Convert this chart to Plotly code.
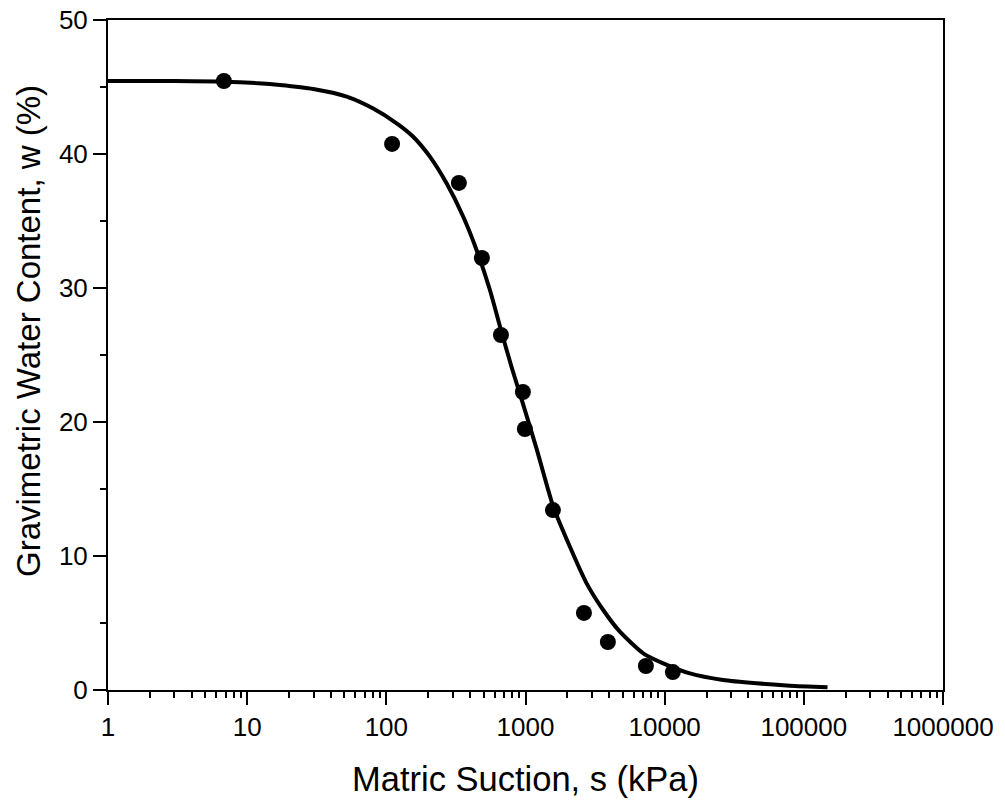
import plotly.graph_objects as go

# Measured data (matric suction in kPa, gravimetric water content in %)
suction_data = [6.8, 110, 332, 486, 666, 958, 990, 1574, 2630, 3908, 7330, 11450]
water_data = [45.45, 40.75, 37.84, 32.24, 26.49, 22.24, 19.48, 13.43, 5.75, 3.58, 1.79, 1.34]

# Fitted curve
suction_fit = [1, 3, 6.8, 12, 17.2, 29.9, 51.9, 80.5, 118.6, 156, 205.6, 271, 357, 445,
               555, 673, 794, 963, 1202, 1583, 2085, 2748, 3617, 4766, 7015, 9770,
               15180, 26300, 45700, 79300, 148000]
water_fit = [45.45, 45.44, 45.40, 45.28, 45.15, 44.85, 44.28, 43.39, 42.29, 41.29, 39.80,
             37.81, 35.32, 32.84, 29.85, 26.7, 24.1, 21.3, 18.0, 13.68, 10.69, 7.96,
             5.97, 4.35, 2.74, 1.99, 1.24, 0.75, 0.50, 0.32, 0.20]

FONT = "Liberation Sans, Arial, sans-serif"

fig = go.Figure()
fig.add_trace(go.Scatter(x=suction_fit, y=water_fit, mode="lines",
                         line=dict(color="black", width=4, shape="spline", smoothing=0.6),
                         showlegend=False, hoverinfo="skip"))
fig.add_trace(go.Scatter(x=suction_data, y=water_data, mode="markers",
                         marker=dict(color="black", size=16), showlegend=False))

fig.update_layout(
    width=1005, height=802,
    margin=dict(l=108, r=62, t=20, b=112, pad=0),
    plot_bgcolor="white", paper_bgcolor="white",
    font=dict(family=FONT, color="black", size=26),
    xaxis=dict(
        type="log", range=[0, 6], tickmode="linear", tick0=0, dtick=1,
        tickformat="d", showgrid=False, zeroline=False, automargin=False,
        showline=True, linecolor="black", linewidth=2, mirror=True,
        ticks="outside", ticklen=13, tickwidth=2, tickcolor="black",
        tickfont=dict(size=26, family=FONT),
        minor=dict(ticks="outside", ticklen=6, tickwidth=2, tickcolor="black",
                   dtick="D1", showgrid=False),
    ),
    yaxis=dict(
        range=[0, 50], tickmode="linear", tick0=0, dtick=10,
        showgrid=False, zeroline=False, automargin=False,
        showline=True, linecolor="black", linewidth=2, mirror=True,
        ticks="outside", ticklen=13, tickwidth=2, tickcolor="black",
        tickfont=dict(size=26, family=FONT),
        minor=dict(ticks="outside", ticklen=6, tickwidth=2, tickcolor="black",
                   dtick=5, showgrid=False),
    ),
    annotations=[
        dict(text="Gravimetric Water Content, w (%)", textangle=-90,
             xref="paper", yref="paper", x=(28 - 108) / 835, y=(690 - 331) / 670,
             xanchor="center", yanchor="middle", showarrow=False,
             font=dict(size=33, family=FONT, color="black")),
        dict(text="Matric Suction, s (kPa)",
             xref="paper", yref="paper", x=0.5, y=(690 - 779) / 670,
             xanchor="center", yanchor="middle", showarrow=False,
             font=dict(size=34.5, family=FONT, color="black")),
    ],
)

fig.write_html("out.html")
